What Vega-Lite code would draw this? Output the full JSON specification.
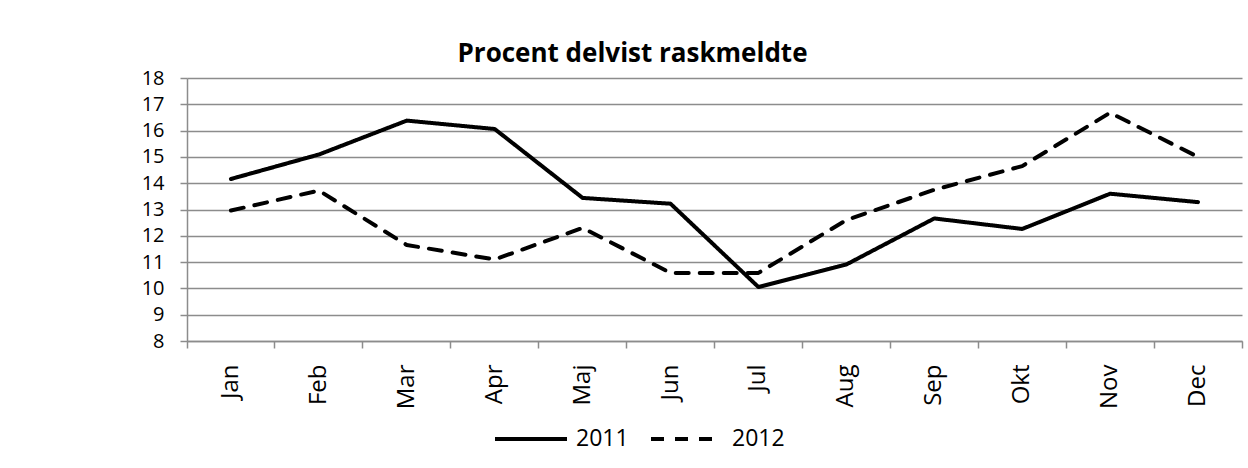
{
  "$schema": "https://vega.github.io/schema/vega-lite/v6.json",
  "autosize": {"type": "none"},
  "width": 1055,
  "height": 263,
  "padding": {"left": 187, "top": 78, "right": 6, "bottom": 127},
  "background": "white",
  "title": {
    "text": "Procent delvist raskmeldte",
    "font": "Open Sans",
    "fontSize": 26,
    "fontWeight": "bold",
    "color": "#000000",
    "anchor": "middle",
    "dx": -82,
    "offset": 1
  },
  "data": {
    "values": [
      {"month": "Jan", "year": "2011", "value": 14.16},
      {"month": "Feb", "year": "2011", "value": 15.09},
      {"month": "Mar", "year": "2011", "value": 16.38},
      {"month": "Apr", "year": "2011", "value": 16.06},
      {"month": "Maj", "year": "2011", "value": 13.44},
      {"month": "Jun", "year": "2011", "value": 13.22},
      {"month": "Jul", "year": "2011", "value": 10.05},
      {"month": "Aug", "year": "2011", "value": 10.91},
      {"month": "Sep", "year": "2011", "value": 12.66},
      {"month": "Okt", "year": "2011", "value": 12.26},
      {"month": "Nov", "year": "2011", "value": 13.6},
      {"month": "Dec", "year": "2011", "value": 13.28},
      {"month": "Jan", "year": "2012", "value": 12.96},
      {"month": "Feb", "year": "2012", "value": 13.72},
      {"month": "Mar", "year": "2012", "value": 11.65},
      {"month": "Apr", "year": "2012", "value": 11.1},
      {"month": "Maj", "year": "2012", "value": 12.3},
      {"month": "Jun", "year": "2012", "value": 10.59},
      {"month": "Jul", "year": "2012", "value": 10.59},
      {"month": "Aug", "year": "2012", "value": 12.6},
      {"month": "Sep", "year": "2012", "value": 13.75},
      {"month": "Okt", "year": "2012", "value": 14.65},
      {"month": "Nov", "year": "2012", "value": 16.68},
      {"month": "Dec", "year": "2012", "value": 15.0}
    ]
  },
  "mark": {"type": "line", "strokeWidth": 4, "strokeCap": "round", "strokeJoin": "round", "color": "#000000"},
  "encoding": {
    "x": {
      "field": "month",
      "type": "nominal",
      "sort": ["Jan", "Feb", "Mar", "Apr", "Maj", "Jun", "Jul", "Aug", "Sep", "Okt", "Nov", "Dec"],
      "scale": {"type": "band", "paddingInner": 0, "paddingOuter": 0},
      "axis": {
        "title": null,
        "labelAngle": -90,
        "labelAlign": "right",
        "labelBaseline": "middle",
        "labelFont": "Open Sans",
        "labelFontSize": 24,
        "labelColor": "#000000",
        "labelPadding": 16,
        "bandPosition": 1,
        "tickExtra": true,
        "tickSize": 7,
        "tickColor": "#8c8c8c",
        "tickWidth": 1.5,
        "domainColor": "#8c8c8c",
        "domainWidth": 1.5,
        "grid": false
      }
    },
    "y": {
      "field": "value",
      "type": "quantitative",
      "scale": {"domain": [8, 18], "nice": false, "zero": false},
      "axis": {
        "title": null,
        "values": [8, 9, 10, 11, 12, 13, 14, 15, 16, 17, 18],
        "labelFont": "Open Sans",
        "labelFontSize": 20,
        "labelColor": "#000000",
        "labelPadding": 16,
        "tickSize": 7,
        "tickColor": "#8c8c8c",
        "tickWidth": 1.5,
        "domainColor": "#8c8c8c",
        "domainWidth": 1.5,
        "grid": true,
        "gridColor": "#8c8c8c",
        "gridWidth": 1.5
      }
    },
    "detail": {"field": "year", "type": "nominal"},
    "strokeDash": {
      "field": "year",
      "type": "nominal",
      "scale": {"domain": ["2011", "2012"], "range": [[1, 0], [13, 11]]},
      "legend": {
        "title": null,
        "orient": "none",
        "legendX": 306,
        "legendY": 323,
        "direction": "horizontal",
        "symbolType": "stroke",
        "symbolSize": 5184,
        "symbolStrokeWidth": 4,
        "symbolStrokeColor": "#000000",
        "labelFont": "Open Sans",
        "labelFontSize": 23,
        "labelColor": "#000000",
        "labelOffset": 7,
        "columnPadding": 14
      }
    }
  },
  "config": {"view": {"stroke": null}}
}
